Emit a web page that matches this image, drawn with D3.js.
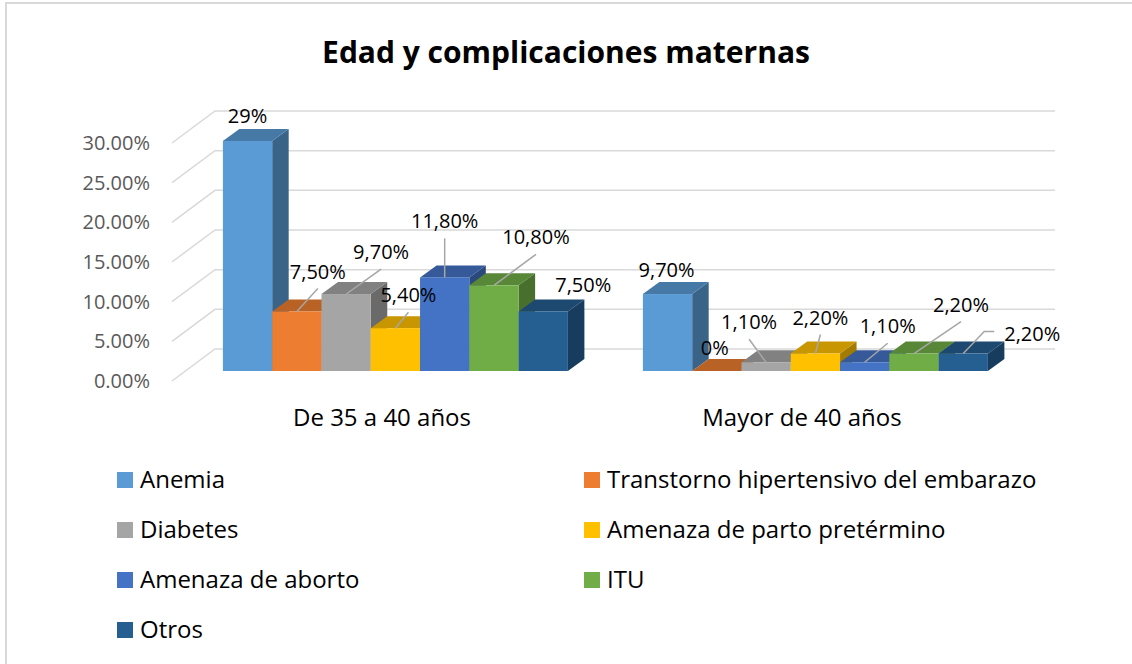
<!DOCTYPE html>
<html>
<head>
<meta charset="utf-8">
<title>Edad y complicaciones maternas</title>
<style type="text/css">
body { margin: 0; background: #fff; }
text { font-family: "Open Sans", "Noto Sans", sans-serif; }
.grid { fill: none; stroke: #d9d9d9; stroke-width: 1.5px; }
.leader { fill: none; stroke: #a6a6a6; stroke-width: 1.5px; }
</style>
<script src="https://cdn.jsdelivr.net/npm/d3@7"></script>
</head>
<body>
<svg width="1132" height="664"></svg>
<script type="text/javascript">

// data
var categories = ["De 35 a 40 años", "Mayor de 40 años"];
var series = ["Anemia", "Transtorno hipertensivo del embarazo", "Diabetes",
              "Amenaza de parto pretérmino", "Amenaza de aborto", "ITU", "Otros"];
var colors = ["#5b9bd5", "#ed7d31", "#a5a5a5", "#ffc000", "#4472c4", "#70ad47", "#255e91"];
var values35a40 = [0.29, 0.075, 0.097, 0.054, 0.118, 0.108, 0.075];
var valuesMayor40 = [0.097, 0, 0.011, 0.022, 0.011, 0.022, 0.022];
var labels35a40 = ["29%", "7,50%", "9,70%", "5,40%", "11,80%", "10,80%", "7,50%"];
var labelsMayor40 = ["9,70%", "0%", "1,10%", "2,20%", "1,10%", "2,20%", "2,20%"];
var yTicks = [0, 0.05, 0.10, 0.15, 0.20, 0.25, 0.30];

// where Excel put each data label, relative to the bar's front top edge
var labelOffsets = [
  [[0, -25], [21, -40], [35, -42], [13, -33], [0, -56], [42, -48], [40, -27]],
  [[-1, -24], [-2, -23], [-17, -40], [5, -36], [23, -36], [47, -49], [69, -20]]
];
var leaders = [
  [false, true, true, true, true, true, false],
  [false, false, true, true, true, true, true]
];

var svg = d3.select("svg");

// 3d projection: depth step for bars, wall and front edge
var bar = {dx: 16.5, dy: -12},
    wall = {dx: 29.6, dy: -22},
    front = {dx: -13.4, dy: 10};

var x0 = d3.scaleBand().domain(categories).range([185.4, 1025.4]),
    x1 = d3.scaleBand().domain(series).range([37.5, 382.5]),
    y = d3.scaleLinear().domain([0, 0.30]).range([371, 133]);

var color = d3.scaleOrdinal().domain(series).range(colors);

function shade(c, k) {
  var r = d3.rgb(c);
  return d3.rgb(r.r * k, r.g * k, r.b * k);
}

// chart border
svg.append("rect")
  .attr("x", 6).attr("y", 3)
  .attr("width", 1140).attr("height", 680)
  .attr("fill", "none")
  .attr("stroke", "#d9d9d9")
  .attr("stroke-width", 2);

// title
svg.append("text")
  .attr("x", 566).attr("y", 63)
  .attr("text-anchor", "middle")
  .attr("font-size", "30px")
  .attr("font-weight", "bold")
  .attr("fill", "#000")
  .text("Edad y complicaciones maternas");

// gridlines: side wall + back wall
var xLeft = x0.range()[0], xRight = x0.range()[1];
svg.append("g").selectAll("path")
  .data(yTicks)
  .enter().append("path")
  .attr("class", "grid")
  .attr("d", function(t) {
    return "M" + (xLeft + front.dx) + "," + (y(t) + front.dy) +
           "L" + (xLeft + wall.dx) + "," + (y(t) + wall.dy) +
           "L" + (xRight + wall.dx) + "," + (y(t) + wall.dy);
  });

// y axis labels
svg.append("g").selectAll("text")
  .data(yTicks)
  .enter().append("text")
  .attr("x", 150)
  .attr("y", function(t) { return y(t) + front.dy; })
  .attr("dy", "0.35em")
  .attr("text-anchor", "end")
  .attr("font-size", "20px")
  .attr("fill", "#595959")
  .text(d3.format(".2%"));

// category labels
svg.append("g").selectAll("text")
  .data(categories)
  .enter().append("text")
  .attr("x", function(c) { return x0(c) + front.dx + x0.bandwidth() / 2; })
  .attr("y", 426)
  .attr("text-anchor", "middle")
  .attr("font-size", "24px")
  .attr("fill", "#000")
  .text(function(c) { return c; });

// bars
var groups = [values35a40, valuesMayor40];
var texts = [labels35a40, labelsMayor40];
var w = x1.bandwidth();
var barsG = svg.append("g");

groups.forEach(function(vals, gi) {
  vals.forEach(function(v, i) {
    var s = series[i],
        xl = x0(categories[gi]) + x1(s),
        top = y(v), bottom = y(0),
        c = color(s);
    var b = barsG.append("g");
    b.append("polygon")
      .attr("points", [[xl + w, top], [xl + w + bar.dx, top + bar.dy],
                       [xl + w + bar.dx, bottom + bar.dy], [xl + w, bottom]].join(" "))
      .attr("fill", shade(c, 0.64));
    b.append("polygon")
      .attr("points", [[xl, top], [xl + bar.dx, top + bar.dy],
                       [xl + w + bar.dx, top + bar.dy], [xl + w, top]].join(" "))
      .attr("fill", shade(c, 0.78));
    b.append("rect")
      .attr("x", xl).attr("y", top)
      .attr("width", w).attr("height", bottom - top)
      .attr("fill", c);
  });
});

// data labels and leader lines
var labG = svg.append("g");
groups.forEach(function(vals, gi) {
  vals.forEach(function(v, i) {
    var xc = x0(categories[gi]) + x1(series[i]) + w / 2,
        top = y(v),
        off = labelOffsets[gi][i],
        lx = xc + off[0], ly = top + off[1];
    var t = labG.append("text")
      .attr("x", lx).attr("y", ly)
      .attr("dy", "0.35em")
      .attr("text-anchor", "middle")
      .attr("font-size", "20px")
      .attr("fill", "#000")
      .text(texts[gi][i]);
    if (leaders[gi][i]) {
      var pts;
      if (off[1] > -25) {
        // label sits to the right: elbow into its left edge
        var half = t.node().getComputedTextLength() / 2;
        pts = [[xc, top], [lx - half - 20, ly - 2], [lx - half - 10, ly - 2]];
      } else {
        pts = [[xc, top], [lx, ly + 17]];
      }
      labG.append("path")
        .attr("class", "leader")
        .attr("d", d3.line()(pts));
    }
  });
});

// legend
var legend = svg.append("g").selectAll("g")
  .data(series)
  .enter().append("g")
  .attr("transform", function(d, i) {
    return "translate(" + (i % 2 ? 584 : 117) + "," + (472 + Math.floor(i / 2) * 50) + ")";
  });
legend.append("rect")
  .attr("width", 16).attr("height", 16)
  .attr("fill", function(d) { return color(d); });
legend.append("text")
  .attr("x", 23).attr("y", 16)
  .attr("font-size", "24px")
  .attr("fill", "#000")
  .text(function(d) { return d; });

</script>
</body>
</html>
